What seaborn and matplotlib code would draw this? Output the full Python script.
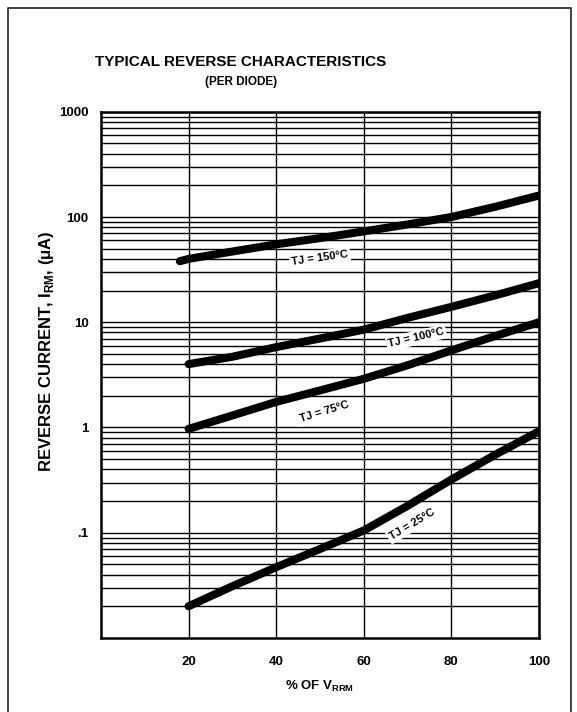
import numpy as np
import pandas as pd
import matplotlib
matplotlib.use("Agg")
import matplotlib.pyplot as plt
import seaborn as sns
from matplotlib.ticker import LogLocator, FixedLocator, NullFormatter

# % of V_RRM
vrrm_pct = [18, 20, 30, 40, 50, 60, 70, 80, 90, 100]
# reverse current (uA) per junction temperature
i_150 = [38, 40, 47, 55, 63, 73, 85, 100, 125, 160]
i_100 = [None, 4.0, 4.7, 5.8, 7.0, 8.5, 11.0, 14.0, 18.0, 23.5]
i_75 = [None, 0.97, 1.3, 1.75, 2.25, 2.9, 3.9, 5.4, 7.4, 10.0]
i_25 = [None, 0.02, 0.031, 0.047, 0.07, 0.105, 0.18, 0.32, 0.55, 0.92]
temps = ["TJ = 150°C", "TJ = 100°C", "TJ = 75°C", "TJ = 25°C"]

x_ticks = [20, 40, 60, 80, 100]
y_ticks = [0.1, 1, 10, 100, 1000]
y_tick_labels = [".1", "1", "10", "100", "1000"]


def build_frame() -> pd.DataFrame:
    rows = []
    for name, vals in zip(temps, [i_150, i_100, i_75, i_25]):
        for x, v in zip(vrrm_pct, vals):
            if v is not None:
                rows.append({"pct": x, "current": v, "temp": name})
    return pd.DataFrame(rows)


def main():
    sns.set_style("white")
    plt.rcParams["font.family"] = ["Liberation Sans", "DejaVu Sans"]
    plt.rcParams["mathtext.fontset"] = "custom"
    plt.rcParams["mathtext.rm"] = "Liberation Sans"
    plt.rcParams["mathtext.bf"] = "Liberation Sans:bold"
    for key in ["text.color", "axes.labelcolor", "xtick.color", "ytick.color"]:
        plt.rcParams[key] = "black"

    df = build_frame()

    fig = plt.figure(figsize=(5.77, 7.12), dpi=100)
    ax = fig.add_axes([0.175, 0.104, 0.759, 0.739])

    sns.lineplot(data=df, x="pct", y="current", units="temp", estimator=None,
                 color="black", linewidth=5.8, solid_capstyle="round", ax=ax)

    ax.set_yscale("log")
    ax.set_xlim(0, 100)
    ax.set_ylim(0.01, 1000)

    ax.xaxis.set_major_locator(FixedLocator(x_ticks))
    ax.set_xticklabels([str(t) for t in x_ticks], fontweight="bold", fontsize=9.5)
    ax.yaxis.set_major_locator(FixedLocator(y_ticks))
    ax.set_yticklabels(y_tick_labels, fontweight="bold", fontsize=9.5)
    ax.yaxis.set_minor_locator(LogLocator(base=10, subs=np.arange(2, 10)))
    ax.yaxis.set_minor_formatter(NullFormatter())
    ax.tick_params(which="both", length=0)
    ax.tick_params(axis="x", pad=13)
    ax.tick_params(axis="y", pad=9)

    ax.grid(True, which="major", axis="x", color="black", linewidth=1.0)
    ax.grid(True, which="both", axis="y", color="black", linewidth=1.0)
    ax.set_axisbelow(True)
    for sp in ax.spines.values():
        sp.set_visible(True)
        sp.set_color("black")
        sp.set_linewidth(1.8)

    ax.set_xlabel(r"% OF V$_{\mathbf{RRM}}$", fontweight="bold", fontsize=9.5, labelpad=8)
    ax.set_ylabel(r"REVERSE CURRENT, I$_{\mathbf{RM}}$, ($\mathbf{\mu}$A)",
                  fontweight="bold", fontsize=12)
    ax.yaxis.set_label_coords(-0.103, 0.545)

    # curve labels
    label_pos = [(50, 41, 8), (72, 7.1, 13), (51, 1.4, 17), (71, 0.12, 31)]
    for name, (lx, ly, rot) in zip(temps, label_pos):
        ax.text(lx, ly, name, fontsize=8, fontweight="bold", rotation=rot,
                ha="center", va="center", rotation_mode="anchor",
                bbox=dict(facecolor="white", edgecolor="none", pad=1.5))

    fig.text(241 / 577, 1 - 62 / 712, "TYPICAL REVERSE CHARACTERISTICS",
             ha="center", va="center", fontsize=11, fontweight="bold")
    fig.text(241 / 577, 1 - 82 / 712, "(PER DIODE)",
             ha="center", va="center", fontsize=8.5, fontweight="bold")

    # outer frame (open at bottom)
    fx0, fx1, fy1 = 8 / 577, 571 / 577, 1 - 8 / 712
    fig.add_artist(plt.Line2D([fx0, fx0, fx1, fx1], [0, fy1, fy1, 0],
                              color="#333333", linewidth=1.3,
                              transform=fig.transFigure))

    fig.savefig("out.png", dpi=100)
    plt.close(fig)


if __name__ == "__main__":
    main()
